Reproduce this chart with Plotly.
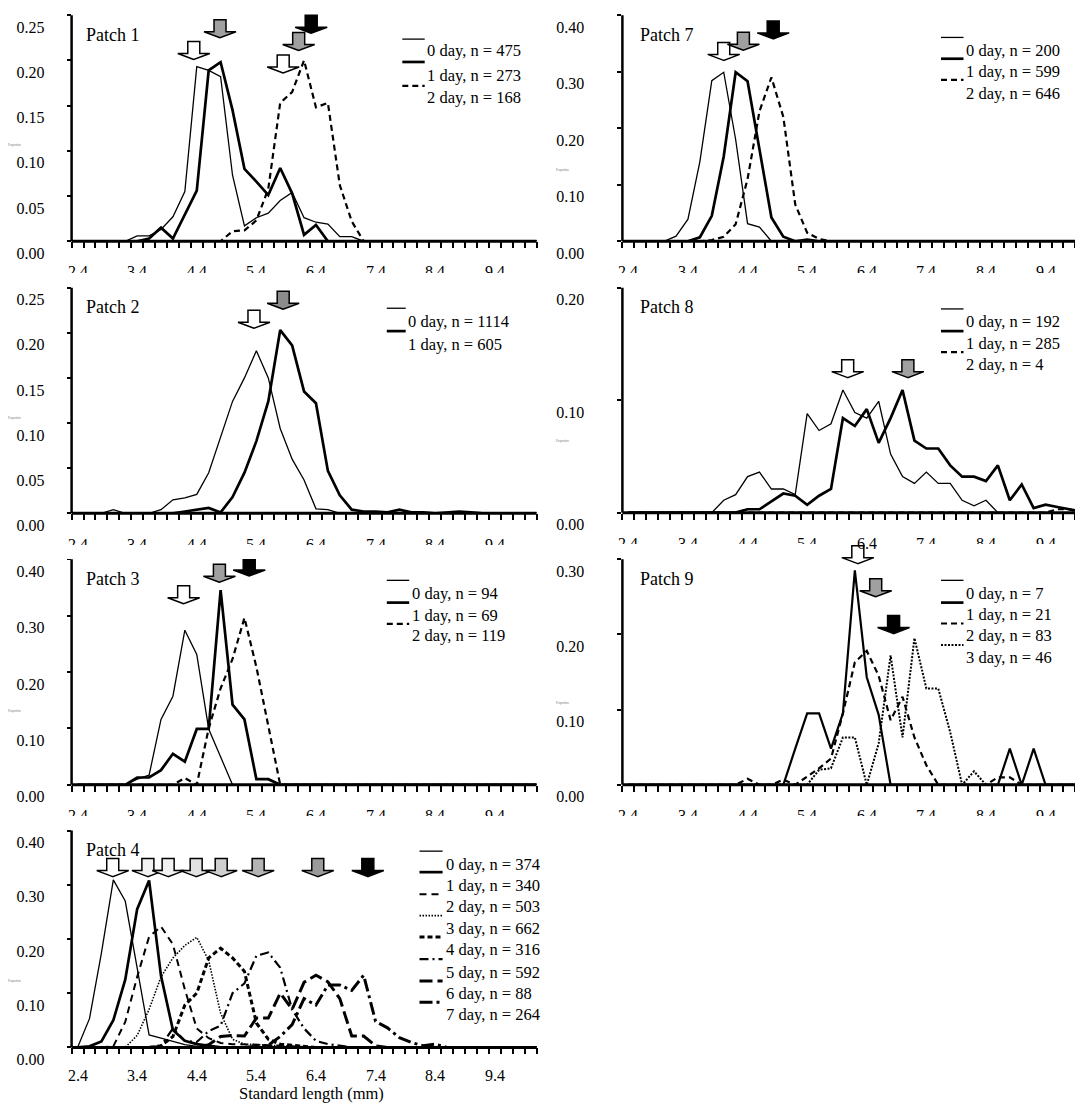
import plotly.graph_objects as go

W, H = 1083, 1117
FONT = "Liberation Serif"

# ---------------- categories / tick labels ----------------
LENGTHS_MM = [2.4, 2.6, 2.8, 3.0, 3.2, 3.4, 3.6, 3.8, 4.0, 4.2,
              4.4, 4.6, 4.8, 5.0, 5.2, 5.4, 5.6, 5.8, 6.0, 6.2,
              6.4, 6.6, 6.8, 7.0, 7.2, 7.4, 7.6, 7.8, 8.0, 8.2,
              8.4, 8.6, 8.8, 9.0, 9.2, 9.4, 9.6, 9.8, 10.0, 10.2]
X_TICK_VALUES = [2.4, 3.4, 4.4, 5.4, 6.4, 7.4, 8.4, 9.4]
X_TICK_LABELS = ["2.4", "3.4", "4.4", "5.4", "6.4", "7.4", "8.4", "9.4"]

# ---------------- Patch 1 ----------------
P1_DAY0 = [0, 0, 0, 0, 0, .006, .006, .013, .027, .055,
           .193, .189, .182, .073, .017, .026, .031, .045, .054, .026,
           .021, .019, .005, .005, 0, 0, 0, 0, 0, 0,
           0, 0, 0, 0, 0, 0, 0, 0, 0, 0]
P1_DAY1 = [0, 0, 0, 0, 0, 0, .003, .015, .003, .030,
           .056, .189, .198, .145, .080, .066, .051, .081, .053, .007,
           .018, 0, 0, 0, 0, 0, 0, 0, 0, 0,
           0, 0, 0, 0, 0, 0, 0, 0, 0, 0]
P1_DAY2 = [0, 0, 0, 0, 0, 0, 0, 0, 0, 0,
           0, 0, 0, .011, .012, .023, .058, .153, .165, .200,
           .148, .153, .062, .022, 0, 0, 0, 0, 0, 0,
           0, 0, 0, 0, 0, 0, 0, 0, 0, 0]
P1_LEGEND = ["0 day, n = 475", "1 day, n = 273", "2 day, n = 168"]
P1_YTICKS = [0.00, 0.05, 0.10, 0.15, 0.20, 0.25]
P1_ARROW_X = [4.35, 4.79, 5.85, 6.11, 6.32]
P1_ARROW_TIP = [0.201, 0.225, 0.186, 0.211, 0.230]
P1_ARROW_FILL = ["white", "#a0a0a0", "white", "#a0a0a0", "black"]

# ---------------- Patch 2 ----------------
P2_DAY0 = [0, 0, 0, .004, 0, 0, 0, .004, .015, .017,
           .021, .045, .085, .124, .150, .180, .150, .094, .060, .037,
           .005, .004, 0, 0, 0, 0, 0, 0, 0, 0,
           0, 0, 0, 0, 0, 0, 0, 0, 0, 0]
P2_DAY1 = [0, 0, 0, 0, 0, 0, 0, 0, 0, .002,
           .004, .006, .001, .018, .045, .080, .124, .203, .186, .135,
           .122, .047, .020, .004, .002, .002, .001, .004, .001, .001,
           0, .001, .002, .001, 0, 0, 0, 0, 0, 0]
P2_LEGEND = ["0 day, n = 1114", "1 day, n = 605"]
P2_YTICKS = [0.00, 0.05, 0.10, 0.15, 0.20, 0.25]
P2_ARROW_X = [5.36, 5.85]
P2_ARROW_TIP = [0.205, 0.226]
P2_ARROW_FILL = ["white", "#8c8c8c"]

# ---------------- Patch 3 ----------------
P3_DAY0 = [0, 0, 0, 0, 0, .010, .017, .116, .157, .274,
           .231, .099, .049, 0, 0, 0, 0, 0, 0, 0,
           0, 0, 0, 0, 0, 0, 0, 0, 0, 0,
           0, 0, 0, 0, 0, 0, 0, 0, 0, 0]
P3_DAY1 = [0, 0, 0, 0, 0, .013, .013, .026, .055, .041,
           .099, .099, .345, .142, .116, .010, .010, 0, 0, 0,
           0, 0, 0, 0, 0, 0, 0, 0, 0, 0,
           0, 0, 0, 0, 0, 0, 0, 0, 0, 0]
P3_DAY2 = [0, 0, 0, 0, 0, 0, 0, 0, 0, .012,
           0, .100, .171, .223, .296, .209, .107, 0, 0, 0,
           0, 0, 0, 0, 0, 0, 0, 0, 0, 0,
           0, 0, 0, 0, 0, 0, 0, 0, 0, 0]
P3_LEGEND = ["0 day, n = 94", "1 day, n = 69", "2 day, n = 119"]
P3_YTICKS = [0.00, 0.10, 0.20, 0.30, 0.40]
P3_ARROW_X = [4.18, 4.78, 5.28]
P3_ARROW_TIP = [0.321, 0.359, 0.370]
P3_ARROW_FILL = ["white", "#a0a0a0", "black"]

# ---------------- Patch 4 ----------------
P4_DAY0 = [0, .053, .174, .309, .270, .150, .023, .017, .011, .005,
           .002, 0, 0, 0, 0, 0, 0, 0, 0, 0,
           0, 0, 0, 0, 0, 0, 0, 0, 0, 0,
           0, 0, 0, 0, 0, 0, 0, 0, 0, 0]
P4_DAY1 = [0, .002, .011, .050, .125, .255, .308, .132, .032, .012,
           .006, .003, 0, 0, 0, 0, 0, 0, 0, 0,
           0, 0, 0, 0, 0, 0, 0, 0, 0, 0,
           0, 0, 0, 0, 0, 0, 0, 0, 0, 0]
P4_DAY2 = [0, 0, 0, .002, .047, .130, .204, .223, .190, .107,
           .035, .017, .008, .006, .006, .005, .004, .003, .002, 0,
           0, 0, 0, 0, 0, 0, 0, 0, 0, 0,
           0, 0, 0, 0, 0, 0, 0, 0, 0, 0]
P4_DAY3 = [0, 0, 0, 0, 0, .022, .070, .130, .165, .188,
           .203, .160, .063, .015, .006, .005, .004, .003, .002, 0,
           0, 0, 0, 0, 0, 0, 0, 0, 0, 0,
           0, 0, 0, 0, 0, 0, 0, 0, 0, 0]
P4_DAY4 = [0, 0, 0, 0, 0, 0, 0, .003, .020, .078,
           .100, .165, .183, .165, .140, .045, .015, .006, .004, .002,
           0, 0, 0, 0, 0, 0, 0, 0, 0, 0,
           0, 0, 0, 0, 0, 0, 0, 0, 0, 0]
P4_DAY5 = [0, 0, 0, 0, 0, 0, 0, .003, .035, .012,
           .010, .030, .040, .100, .118, .169, .175, .147, .070, .035,
           .012, .006, .003, 0, 0, 0, 0, 0, 0, 0,
           0, 0, 0, 0, 0, 0, 0, 0, 0, 0]
P4_DAY6 = [0, 0, 0, 0, 0, 0, 0, 0, 0, 0,
           0, .005, .020, .022, .021, .054, .054, .100, .070, .120,
           .133, .121, .090, .021, .021, .003, 0, 0, 0, 0,
           0, 0, 0, 0, 0, 0, 0, 0, 0, 0]
P4_DAY7 = [0, 0, 0, 0, 0, 0, 0, 0, 0, 0,
           0, 0, 0, 0, 0, .002, .004, .020, .042, .090,
           .078, .115, .115, .105, .133, .048, .036, .018, .009, .003,
           .006, 0, 0, 0, 0, 0, 0, 0, 0, 0]
P4_LEGEND = ["0 day, n = 374", "1 day, n = 340", "2 day, n = 503", "3 day, n = 662",
             "4 day, n = 316", "5 day, n = 592", "6 day, n = 88", "7 day, n = 264"]
P4_YTICKS = [0.00, 0.10, 0.20, 0.30, 0.40]
P4_ARROW_X = [2.99, 3.58, 3.92, 4.39, 4.81, 5.43, 6.43, 7.27]
P4_ARROW_TIP = [0.315, 0.315, 0.315, 0.315, 0.315, 0.315, 0.315, 0.315]
P4_ARROW_FILL = ["white", "#f2f2f2", "#f2f2f2", "#e2e2e2", "#cfcfcf", "#b4b4b4", "#9a9a9a", "black"]

# ---------------- Patch 7 ----------------
P7_DAY0 = [0, 0, 0, 0, .009, .039, .141, .284, .299, .180,
           .031, .025, 0, 0, 0, 0, 0, 0, 0, 0,
           0, 0, 0, 0, 0, 0, 0, 0, 0, 0,
           0, 0, 0, 0, 0, 0, 0, 0, 0, 0]
P7_DAY1 = [0, 0, 0, 0, 0, 0, .007, .045, .150, .299,
           .283, .163, .042, .008, 0, .003, 0, 0, 0, 0,
           0, 0, 0, 0, 0, 0, 0, 0, 0, 0,
           0, 0, 0, 0, 0, 0, 0, 0, 0, 0]
P7_DAY2 = [0, 0, 0, 0, 0, 0, 0, .002, .008, .030,
           .110, .230, .290, .220, .065, .015, .004, 0, 0, 0,
           0, 0, 0, 0, 0, 0, 0, 0, 0, 0,
           0, 0, 0, 0, 0, 0, 0, 0, 0, 0]
P7_LEGEND = ["0 day, n = 200", "1 day, n = 599", "2 day, n = 646"]
P7_YTICKS = [0.00, 0.10, 0.20, 0.30, 0.40]
P7_ARROW_X = [4.00, 4.33, 4.83]
P7_ARROW_TIP = [0.320, 0.338, 0.358]
P7_ARROW_FILL = ["white", "#a0a0a0", "black"]

# ---------------- Patch 8 ----------------
P8_DAY0 = [0, 0, 0, 0, 0, 0, 0, 0, .011, .016,
           .032, .036, .021, .021, .016, .088, .073, .079, .109, .089,
           .084, .099, .052, .032, .026, .036, .026, .026, .011, .006,
           .011, 0, 0, 0, 0, 0, 0, 0, 0, 0]
P8_DAY1 = [0, 0, 0, 0, 0, 0, 0, 0, 0, 0,
           .003, .003, .010, .017, .015, .007, .015, .021, .084, .077,
           .092, .062, .084, .109, .064, .057, .057, .042, .032, .032,
           .028, .042, .011, .025, .004, .007, .005, .003, .001, 0]
P8_DAY2 = [0, 0, 0, 0, 0, 0, 0, 0, 0, 0,
           0, 0, 0, 0, 0, 0, 0, 0, 0, 0,
           0, 0, 0, 0, 0, 0, 0, 0, 0, 0,
           0, 0, 0, 0, 0, 0, .003, .003, 0, 0]
P8_LEGEND = ["0 day, n = 192", "1 day, n = 285", "2 day, n = 4"]
P8_YTICKS = [0.00, 0.10, 0.20]
P8_ARROW_X = [6.08, 7.09]
P8_ARROW_TIP = [0.120, 0.120]
P8_ARROW_FILL = ["white", "#a0a0a0"]

# ---------------- Patch 9 ----------------
P9_SOLID = [0, 0, 0, 0, 0, 0, 0, 0, 0, 0,
            0, 0, 0, 0, .048, .095, .095, .048, .095, .285,
            .143, .093, 0, 0, 0, 0, 0, 0, 0, 0,
            0, 0, .048, 0, .048, 0, 0, 0, 0, 0]
P9_DASHED = [0, 0, 0, 0, 0, 0, 0, 0, 0, 0,
             .008, 0, 0, .007, 0, .011, .022, .035, .095, .163,
             .178, .145, .086, .117, .063, .026, 0, 0, 0, 0,
             0, .010, .010, 0, 0, 0, 0, 0, 0, 0]
P9_DOTTED = [0, 0, 0, 0, 0, 0, 0, 0, 0, 0,
             0, 0, 0, 0, 0, 0, .020, .022, .063, .063,
             0, .055, .172, .063, .195, .128, .128, .070, 0, .018,
             0, 0, 0, 0, 0, 0, 0, 0, 0, 0]
P9_LEGEND = ["0 day, n = 7", "1 day, n = 21", "2 day, n = 83", "3 day, n = 46"]
P9_YTICKS = [0.00, 0.10, 0.20, 0.30]
P9_ARROW_X = [6.25, 6.55, 6.85]
P9_ARROW_TIP = [0.294, 0.250, 0.201]
P9_ARROW_FILL = ["white", "#a0a0a0", "black"]

# ---------------- styles ----------------
THIN = dict(width=1.3, dash="solid")
THICK = dict(width=2.7, dash="solid")
MEDIUM = dict(width=2.2, dash="solid")
DASHED = dict(width=2.2, dash="6px,4px")
DOTTED = dict(width=2.0, dash="2px,1.5px")
P4_DASH = dict(width=2.0, dash="7px,5px")
P4_DOT = dict(width=1.6, dash="1.5px,1.5px")
P4_BOLDDASH = dict(width=3.0, dash="5px,3px")
P4_DASHDOT = dict(width=2.2, dash="9px,4px,2px,4px")
P4_LONGDASH = dict(width=3.0, dash="13px,5px")
P4_LONGDASHDOT = dict(width=3.0, dash="13px,4px,3px,4px")

ARROW_PATH = "M0,0 L-16,6 L-6,6 L-6,18 L6,18 L6,6 L16,6 Z"

LEFT = dict(left=63.6, right=528.5, xmax=10.1, ystand=19, title_x=76.4, prop_x=6)
RIGHT = dict(left=614.4, right=1083.0, xmax=2.3 + 0.2 * (1083.0 - 614.4) / 11.92,
             ystand=30, title_x=630.0, prop_x=554.0)

# xdrop: px from the x axis line down to the centre of its tick labels
PANELS = [
    dict(title="Patch 1", col=LEFT, top=7.3, zero=237.7, ymax=0.25, yticks=P1_YTICKS, xdrop=30.7,
         series=[(P1_DAY0, THIN), (P1_DAY1, THICK), (P1_DAY2, DASHED)],
         legend=P1_LEGEND, leg_styles=[THIN, THICK, DASHED],
         leg_line_x=(394.3, 416.7), leg_text_x=418.4,
         leg_line_y=[31.7, 55.0, 79.3], leg_text_y=[43.3, 68.3, 91.7],
         arrows=(P1_ARROW_X, P1_ARROW_TIP, P1_ARROW_FILL), title_y=27.3, prop_y=140),
    dict(title="Patch 2", col=LEFT, top=285.0, zero=515.0, ymax=0.25, yticks=P2_YTICKS, xdrop=30.7,
         series=[(P2_DAY0, THIN), (P2_DAY1, THICK)],
         legend=P2_LEGEND, leg_styles=[THIN, THICK],
         leg_line_x=(378.8, 397.7), leg_text_x=399.4,
         leg_line_y=[306.0, 329.3], leg_text_y=[320.0, 343.3],
         arrows=(P2_ARROW_X, P2_ARROW_TIP, P2_ARROW_FILL), title_y=305.0, prop_y=418),
    dict(title="Patch 3", col=LEFT, top=561.7, zero=791.7, ymax=0.40, yticks=P3_YTICKS, xdrop=30.7,
         series=[(P3_DAY0, THIN), (P3_DAY1, THICK), (P3_DAY2, DASHED)],
         legend=P3_LEGEND, leg_styles=[THIN, THICK, DASHED],
         leg_line_x=(378.8, 401.2), leg_text_x=402.9,
         leg_line_y=[583.3, 606.0, 627.7], leg_text_y=[596.7, 619.3, 640.0],
         arrows=(P3_ARROW_X, P3_ARROW_TIP, P3_ARROW_FILL), title_y=581.7, prop_y=716),
    dict(title="Patch 4", col=LEFT, top=838.3, zero=1059.3, ymax=0.40, yticks=P4_YTICKS, xdrop=28.5,
         series=[(P4_DAY0, THIN), (P4_DAY1, THICK), (P4_DAY2, P4_DASH), (P4_DAY3, P4_DOT),
                 (P4_DAY4, P4_BOLDDASH), (P4_DAY5, P4_DASHDOT), (P4_DAY6, P4_LONGDASH),
                 (P4_DAY7, P4_LONGDASHDOT)],
         legend=P4_LEGEND,
         leg_styles=[THIN, THICK, P4_DASH, P4_DOT, P4_BOLDDASH, P4_DASHDOT, P4_LONGDASH, P4_LONGDASHDOT],
         leg_line_x=(411.5, 434.6), leg_text_x=437.3,
         leg_line_y=[859.3, 880.7, 903.3, 925.0, 946.7, 969.3, 991.7, 1013.3],
         leg_text_y=[873.3, 894.0, 916.0, 937.7, 960.0, 982.7, 1004.0, 1026.0],
         arrows=(P4_ARROW_X, P4_ARROW_TIP, P4_ARROW_FILL), title_y=858.3, prop_y=992),
    dict(title="Patch 7", col=RIGHT, top=7.3, zero=237.7, ymax=0.40, yticks=P7_YTICKS, xdrop=30.7,
         series=[(P7_DAY0, THIN), (P7_DAY1, THICK), (P7_DAY2, DASHED)],
         legend=P7_LEGEND, leg_styles=[THIN, THICK, DASHED],
         leg_line_x=(933.0, 955.5), leg_text_x=957.2,
         leg_line_y=[30.0, 51.7, 73.3], leg_text_y=[43.3, 65.0, 86.7],
         arrows=(P7_ARROW_X, P7_ARROW_TIP, P7_ARROW_FILL), title_y=27.3, prop_y=165),
    dict(title="Patch 8", col=RIGHT, top=285.0, zero=514.3, ymax=0.20, yticks=P8_YTICKS, xdrop=30.7,
         series=[(P8_DAY0, THIN), (P8_DAY1, THICK), (P8_DAY2, DASHED)],
         legend=P8_LEGEND, leg_styles=[THIN, THICK, DASHED],
         leg_line_x=(933.0, 955.5), leg_text_x=957.2,
         leg_line_y=[306.7, 329.3, 350.7], leg_text_y=[320.0, 341.7, 363.3],
         arrows=(P8_ARROW_X, P8_ARROW_TIP, P8_ARROW_FILL), title_y=305.0, prop_y=441.7),
    dict(title="Patch 9", col=RIGHT, top=561.7, zero=791.7, ymax=0.30, yticks=P9_YTICKS, xdrop=30.7,
         series=[(P9_SOLID, MEDIUM), (P9_DASHED, DASHED), (P9_DOTTED, DOTTED)],
         legend=P9_LEGEND, leg_styles=[THIN, THICK, DASHED, DOTTED],
         leg_line_x=(933.0, 955.5), leg_text_x=957.2,
         leg_line_y=[583.3, 606.0, 627.3, 649.3], leg_text_y=[596.7, 618.3, 640.0, 661.7],
         arrows=(P9_ARROW_X, P9_ARROW_TIP, P9_ARROW_FILL), title_y=581.7, prop_y=708.0),
]

# The next chart's white area hides the lower half of the x labels of rows 1-3:
# (x_left, x_right, y_top, y_bottom) in pixels
COVERS = [(0, 1083, 270.0, 284.3),
          (0, 560, 547.3, 561.0), (560, 831, 546.6, 561.0), (869, 1083, 546.6, 561.0),
          (0, 1083, 824.0, 837.6)]


def fx(px):
    return px / W


def fy(py):
    return 1 - py / H


fig = go.Figure()
shapes = []
annotations = []

layout_axes = {}
for k, p in enumerate(PANELS):
    s = "" if k == 0 else str(k + 1)
    col = p["col"]
    headroom = min(22.0, p["top"])
    top_ext = p["top"] - headroom
    yr_top = p["ymax"] * (p["zero"] - top_ext) / (p["zero"] - p["top"])

    for vals, st in p["series"]:
        fig.add_trace(go.Scatter(x=LENGTHS_MM, y=vals, mode="lines",
                                 line=dict(color="black", width=st["width"], dash=st["dash"]),
                                 xaxis="x" + s, yaxis="y" + s, hoverinfo="skip", showlegend=False))

    layout_axes["xaxis" + s] = dict(
        domain=[fx(col["left"]), fx(col["right"])], range=[2.3, col["xmax"]], anchor="y" + s,
        showline=False, showgrid=False, zeroline=False, showticklabels=False,
        tickmode="array", tickvals=X_TICK_VALUES, ticks="",
        minor=dict(ticks="outside", ticklen=6, tickwidth=2, tickcolor="black",
                   tick0=2.3, dtick=0.2, showgrid=False),
    )
    layout_axes["yaxis" + s] = dict(
        domain=[fy(p["zero"]), fy(top_ext)], range=[0, yr_top], anchor="x" + s,
        showline=False, showgrid=False, zeroline=False,
        tickmode="array", tickvals=p["yticks"], ticktext=["%.2f" % v for v in p["yticks"]],
        ticks="outside", ticklen=4, tickwidth=2, tickcolor="black",
        tickfont=dict(family=FONT, size=16, color="black"),
        ticklabelshift=12, ticklabelstandoff=col["ystand"],
    )
    # x tick labels, placed on the x scale, a fixed drop below the axis line
    for tv, tl in zip(X_TICK_VALUES, X_TICK_LABELS):
        annotations.append(dict(text=tl, xref="x" + s, yref="y" + s + " domain", x=tv, y=0,
                                xanchor="center", yanchor="middle", yshift=-p["xdrop"],
                                showarrow=False, borderpad=0,
                                font=dict(family=FONT, size=16, color="black")))
    # x-axis line centred on zero (covers the zero-valued stretches of the curves)
    shapes.append(dict(type="line", xref="x" + s + " domain", yref="y" + s + " domain",
                       x0=0, x1=1, y0=0, y1=0, line=dict(color="black", width=3), layer="above"))
    # y-axis line up to the top tick
    shapes.append(dict(type="line", xref="x" + s + " domain", yref="y" + s, x0=0, x1=0,
                       y0=0, y1=p["ymax"], line=dict(color="black", width=2.5), layer="above"))

    # arrows
    ax_, ay_, af_ = p["arrows"]
    for xa, ya, fc in zip(ax_, ay_, af_):
        shapes.append(dict(type="path", xref="x" + s, yref="y" + s,
                           xsizemode="pixel", ysizemode="pixel", xanchor=xa, yanchor=ya,
                           path=ARROW_PATH, fillcolor=fc,
                           line=dict(color="black", width=1.5), layer="above"))

    # title
    annotations.append(dict(text=p["title"], xref="paper", yref="paper",
                            x=fx(col["title_x"]), y=fy(p["title_y"]), xanchor="left", yanchor="middle",
                            showarrow=False, font=dict(family=FONT, size=18, color="black")))
    # tiny axis title
    annotations.append(dict(text="Proportion", xref="paper", yref="paper",
                            x=fx(col["prop_x"]), y=fy(p["prop_y"]), xanchor="center", yanchor="middle",
                            showarrow=False, borderpad=0,
                            font=dict(family=FONT, size=3, color="#777777")))

    # legend
    lx0, lx1 = p["leg_line_x"]
    for txt, st, ly, ty in zip(p["legend"], p["leg_styles"], p["leg_line_y"], p["leg_text_y"]):
        shapes.append(dict(type="line", xref="paper", yref="paper",
                           x0=fx(lx0), x1=fx(lx1), y0=fy(ly), y1=fy(ly),
                           line=dict(color="black", width=st["width"], dash=st["dash"]), layer="above"))
        annotations.append(dict(text=txt, xref="paper", yref="paper",
                                x=fx(p["leg_text_x"]), y=fy(ty), xanchor="left", yanchor="middle",
                                showarrow=False, borderpad=0,
                                font=dict(family=FONT, size=16.5, color="black")))

annotations.append(dict(text="Standard length (mm)", xref="paper", yref="paper",
                        x=fx(303), y=fy(1106), xanchor="center", yanchor="middle", showarrow=False,
                        borderpad=0, font=dict(family=FONT, size=16.5, color="black")))

# white blocks drawn after the x labels so only their upper half shows
for x0, x1, y0, y1 in COVERS:
    annotations.append(dict(text=" ", xref="paper", yref="paper",
                            x=fx((x0 + x1) / 2), y=fy((y0 + y1) / 2),
                            xanchor="center", yanchor="middle", showarrow=False,
                            width=x1 - x0, height=y1 - y0, borderpad=0, borderwidth=0,
                            bgcolor="white", font=dict(size=1)))

fig.update_layout(
    width=W, height=H, margin=dict(l=0, r=0, t=0, b=0),
    paper_bgcolor="white", plot_bgcolor="rgba(0,0,0,0)",
    showlegend=False, shapes=shapes, annotations=annotations,
    **layout_axes,
)

fig.write_html("out.html")
